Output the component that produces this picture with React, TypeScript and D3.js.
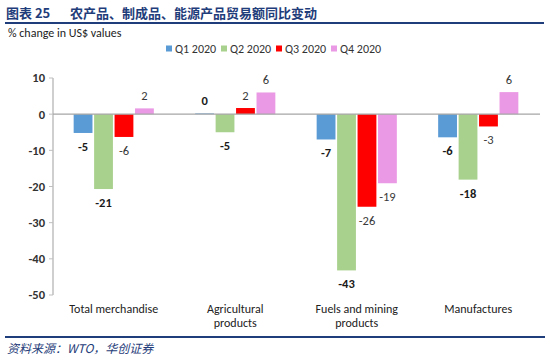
import React from 'react';
import * as d3 from 'd3';

// categories and quarter series (% change in US$ values)
const categories = ['Total merchandise', 'Agricultural products', 'Fuels and mining products', 'Manufactures'];
const categoryLines = [['Total merchandise'], ['Agricultural', 'products'], ['Fuels and mining', 'products'], ['Manufactures']];
const quarters = ['Q1 2020', 'Q2 2020', 'Q3 2020', 'Q4 2020'];
const q1 = [-5.2, 0.2, -7.0, -6.4];
const q2 = [-20.7, -5.0, -43.2, -18.1];
const q3 = [-6.3, 1.7, -25.6, -3.4];
const q4 = [1.6, 6.0, -19.1, 6.1];
const yTicks = [10, 0, -10, -20, -30, -40, -50];

const colors = ['#5B9BD5', '#A9D18E', '#FF0000', '#EA9AE4'];
const labelColors = ['#1a1a1a', '#1a1a1a', '#3a3a3a', '#3a3a3a'];
const navy = '#1F3D7A';

export default function App() {
  const series = [q1, q2, q3, q4];

  const x = d3.scaleBand<string>()
    .domain(categories)
    .range([53, 539])
    .paddingInner(0.34)
    .paddingOuter(0.17);

  const xq = d3.scaleBand<string>()
    .domain(quarters)
    .range([0, x.bandwidth()])
    .paddingInner(0.08);

  const y = d3.scaleLinear().domain([-50, 10]).range([295, 78]);
  // plain hyphen for negatives, like the original
  const fmt = d3.formatLocale({ decimal: '.', thousands: ',', grouping: [3], currency: ['', ''], minus: '-' }).format('.0f');
  const font = 'Calibri, Carlito, "Open Sans", sans-serif';

  return (
    <svg width={550} height={361} style={{ position: 'absolute', left: 0, top: 0, background: '#fff' }}>
      {/* title */}
      <text x={6} y={18} fontFamily='"Noto Sans CJK SC", serif' fontWeight="bold" fontSize={13} fill={navy}>
        图表 25
      </text>
      <text x={70} y={18} fontFamily='"Noto Sans CJK SC", serif' fontWeight="bold" fontSize={13} fill={navy}>
        农产品、制成品、能源产品贸易额同比变动
      </text>
      <line x1={5} x2={544} y1={23} y2={23} stroke={navy} strokeWidth={2} />

      <text x={8} y={37} fontFamily={font} fontSize={12} fill="#222">% change in US$ values</text>

      {/* legend */}
      {quarters.map((q, i) => (
        <g key={q} transform={`translate(${166 + i * 55},0)`}>
          <rect x={0} y={45.5} width={6} height={6} fill={colors[i]} />
          <text x={9} y={53} fontFamily={font} fontSize={12} fill="#333">{q}</text>
        </g>
      ))}

      {/* y axis */}
      <line x1={53} x2={53} y1={y(10)} y2={y(-50)} stroke="#bfbfbf" strokeWidth={1.5} />
      {yTicks.map(t => (
        <g key={t}>
          <line x1={49} x2={53} y1={y(t)} y2={y(t)} stroke="#bfbfbf" strokeWidth={1} />
          <text x={45} y={y(t)} dy="0.35em" textAnchor="end" fontFamily={font} fontSize={12.5} fontWeight="bold" fill="#333">
            {fmt(t)}
          </text>
        </g>
      ))}

      {/* bars */}
      {categories.map((c, ci) => (
        <g key={c} transform={`translate(${x(c)},0)`}>
          {series.map((s, si) => {
            const v = s[ci];
            const bx = xq(quarters[si]) as number;
            const w = xq.bandwidth();
            const top = Math.min(y(v), y(0));
            const h = Math.abs(y(v) - y(0));
            const ly = v >= 0 ? y(v) - 8 : y(v) + 18;
            return (
              <g key={si}>
                <rect x={bx} y={top} width={w} height={Math.max(h, 0.6)} fill={colors[si]} />
                <text x={bx + w / 2} y={ly} textAnchor="middle" fontFamily={font} fontSize={12.5}
                  fontWeight={si < 2 ? 'bold' : 'normal'} fill={labelColors[si]}>
                  {fmt(v)}
                </text>
              </g>
            );
          })}
        </g>
      ))}

      {/* zero line */}
      <line x1={53} x2={540} y1={y(0)} y2={y(0)} stroke="#a6a6a6" strokeWidth={1.2} />

      {/* category labels */}
      {categories.map((c, ci) => (
        <text key={c} textAnchor="middle" fontFamily={font} fontSize={12} fill="#222">
          {categoryLines[ci].map((l, li) => (
            <tspan key={li} x={(x(c) as number) + x.bandwidth() / 2} y={313 + li * 14}>{l}</tspan>
          ))}
        </text>
      ))}

      {/* source */}
      <line x1={5} x2={545} y1={337} y2={337} stroke={navy} strokeWidth={2} />
      <text x={7} y={353} fontFamily='"Noto Sans CJK SC", serif' fontStyle="italic" fontSize={12} fill={navy}>
        资料来源：WTO，华创证券
      </text>
    </svg>
  );
}
